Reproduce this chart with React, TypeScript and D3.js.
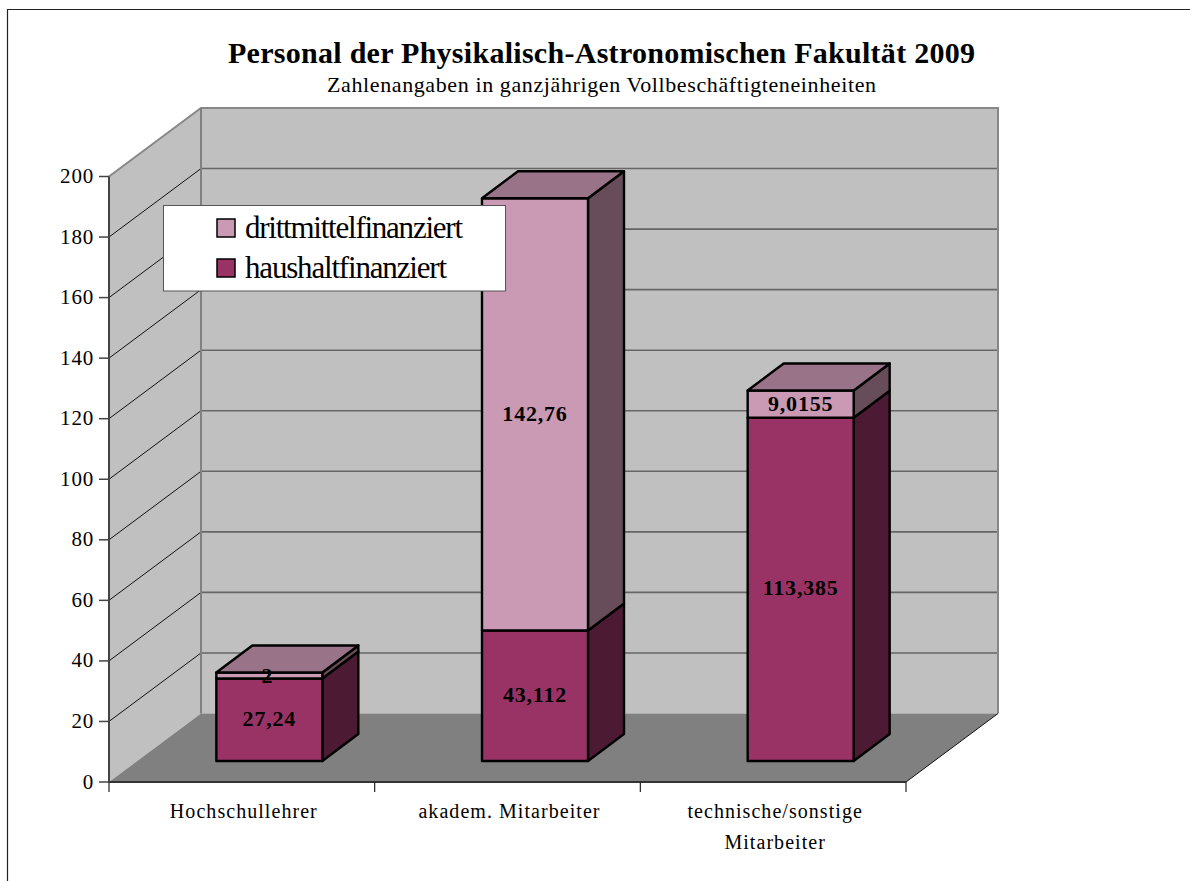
import React from "react";
import * as d3 from "d3";

const categories = ["Hochschullehrer", "akadem. Mitarbeiter", "technische/sonstige"];
const categoryLine2 = ["", "", "Mitarbeiter"];
const haushalt = [27.24, 43.112, 113.385];
const dritt = [2, 142.76, 9.0155];
const haushaltLabels = ["27,24", "43,112", "113,385"];
const drittLabels = ["2", "142,76", "9,0155"];
const ticks = [0, 20, 40, 60, 80, 100, 120, 140, 160, 180, 200];
const title = "Personal der Physikalisch-Astronomischen Fakultät 2009";
const subtitle = "Zahlenangaben in ganzjährigen Vollbeschäftigteneinheiten";
const legendItems = ["drittmittelfinanziert", "haushaltfinanziert"];

const FONT = "'Liberation Serif', 'Times New Roman', serif";
const WALL = "#C0C0C0", FLOOR = "#808080";
const DARK = "#993366", LIGHT = "#CA99B4";
const DARK_SIDE = "#4D1A33", LIGHT_SIDE = "#664D59", TOP = "#997387";

const x = d3.scaleBand<number>().domain([0, 1, 2]).range([109, 906]);
const y = d3.scaleLinear().domain([0, 200]).range([782, 176.5]);
const DX = 92, DY = -68.5;     // wall depth
const BX = 36, BY = -27;       // bar depth
const OX = 27.5, OY = -21;     // bar offset from the axis plane
const BAR_W = 106;

const poly = (p: number[][]) => p.map((a) => a.join(",")).join(" ");

export default function App() {
  const x0 = x.range()[0], x1 = x.range()[1];
  const yTop = y(200), yBase = y(0);
  return (
    <svg width={1190} height={881} style={{ position: "absolute", left: 0, top: 0, fontFamily: FONT }}>
      <rect width={1190} height={881} fill="#fff" />
      <path d="M7.5,881V9.5H1190" fill="none" stroke="#222" strokeWidth={1.2} />

      <text x={601.5} y={63} textAnchor="middle" fontSize={30} fontWeight="bold" textLength={747} lengthAdjust="spacing" fill="#000">{title}</text>
      <text x={601.5} y={92} textAnchor="middle" fontSize={22} textLength={549} lengthAdjust="spacing" fill="#000">{subtitle}</text>

      {/* walls and floor */}
      <polygon points={poly([[x0, yTop], [x0 + DX, yTop + DY], [x0 + DX, yBase + DY], [x0, yBase]])} fill={WALL} />
      <rect x={x0 + DX} y={yTop + DY} width={x1 - x0} height={yBase - yTop} fill={WALL} />
      <polygon points={poly([[x0, yBase], [x0 + DX, yBase + DY], [x1 + DX, yBase + DY], [x1, yBase]])} fill={FLOOR} />

      {/* gridlines */}
      {ticks.slice(1, -1).map((t) => {
        const yy = y(t);
        return <g key={t}>
          <line x1={x0} y1={yy} x2={x0 + DX} y2={yy + DY} stroke="#111" strokeWidth={1} />
          <line x1={x0 + DX} y1={yy + DY} x2={x1 + DX} y2={yy + DY} stroke="#666" strokeWidth={1.6} />
        </g>;
      })}
      <polyline points={poly([[x0, yTop], [x0 + DX, yTop + DY], [x1 + DX, yTop + DY], [x1 + DX, yBase + DY]])} fill="none" stroke="#888" strokeWidth={2} />
      <line x1={x0 + DX} y1={yTop + DY} x2={x0 + DX} y2={yBase + DY} stroke="#808080" strokeWidth={2} />
      <line x1={x1} y1={yBase} x2={x1 + DX} y2={yBase + DY} stroke="#111" strokeWidth={1} />

      {/* bars */}
      {categories.map((_, i) => {
        const bx = (x(i) as number) + x.bandwidth() / 2 - BAR_W / 2 + OX;
        const h = y(0) - y(haushalt[i]);
        const d = y(0) - y(dritt[i]);
        const base = yBase + OY;
        const segs = [
          { b: base, t: base - h, fill: DARK, side: DARK_SIDE },
          { b: base - h, t: base - h - d, fill: LIGHT, side: LIGHT_SIDE },
        ];
        const topY = base - h - d;
        return <g key={i} stroke="#000" strokeWidth={2.4} strokeLinejoin="round">
          {segs.map((s, k) => <g key={k}>
            <polygon points={poly([[bx + BAR_W, s.b], [bx + BAR_W + BX, s.b + BY], [bx + BAR_W + BX, s.t + BY], [bx + BAR_W, s.t]])} fill={s.side} />
            <rect x={bx} y={s.t} width={BAR_W} height={s.b - s.t} fill={s.fill} />
          </g>)}
          <polygon points={poly([[bx, topY], [bx + BX, topY + BY], [bx + BAR_W + BX, topY + BY], [bx + BAR_W, topY]])} fill={TOP} />
        </g>;
      })}

      {/* value labels */}
      {categories.map((_, i) => {
        const cx = (x(i) as number) + x.bandwidth() / 2 + OX;
        const h = y(0) - y(haushalt[i]);
        const d = y(0) - y(dritt[i]);
        const base = yBase + OY;
        return <g key={i} fontSize={22} fontWeight="bold" textAnchor="middle" fill="#000">
          <text x={cx} y={base - h / 2 + 6} letterSpacing={0.8}>{haushaltLabels[i]}</text>
          <text x={cx - (i === 0 ? 2 : 0)} y={base - h - d / 2 + 7} letterSpacing={0.8}>{drittLabels[i]}</text>
        </g>;
      })}

      {/* axes */}
      <line x1={x0} y1={yTop} x2={x0} y2={yBase} stroke="#444" strokeWidth={2} />
      <line x1={x0} y1={yBase} x2={x1} y2={yBase} stroke="#333" strokeWidth={2} />
      {ticks.map((t) => <g key={t}>
        <line x1={x0 - 10} y1={y(t)} x2={x0} y2={y(t)} stroke="#444" strokeWidth={1.5} />
        <text x={94} y={y(t) + 6.5} textAnchor="end" fontSize={21} letterSpacing={0.8} fill="#000">{t}</text>
      </g>)}
      {[0, 1, 2, 3].map((i) => {
        const tx = x0 + i * x.step();
        return <line key={i} x1={tx} y1={yBase} x2={tx} y2={yBase + 10} stroke="#222" strokeWidth={1.2} />;
      })}
      {categories.map((c, i) => {
        const cx = (x(i) as number) + x.bandwidth() / 2;
        return <g key={c} fontSize={20} letterSpacing={1.05} textAnchor="middle" fill="#000">
          <text x={cx + 2} y={818}>{c}</text>
          {categoryLine2[i] && <text x={cx + 2} y={849}>{categoryLine2[i]}</text>}
        </g>;
      })}

      {/* legend */}
      <rect x={163.5} y={205.5} width={342} height={85.5} fill="#fff" stroke="#555" strokeWidth={1} />
      {legendItems.map((l, i) => <g key={l}>
        <rect x={217} y={219 + i * 40} width={18} height={18} fill={i === 0 ? LIGHT : DARK} stroke="#000" strokeWidth={1.5} />
        <text x={245} y={238 + i * 40} fontSize={31} textLength={i === 0 ? 218 : 202} lengthAdjust="spacing" fill="#000">{l}</text>
      </g>)}
    </svg>
  );
}
